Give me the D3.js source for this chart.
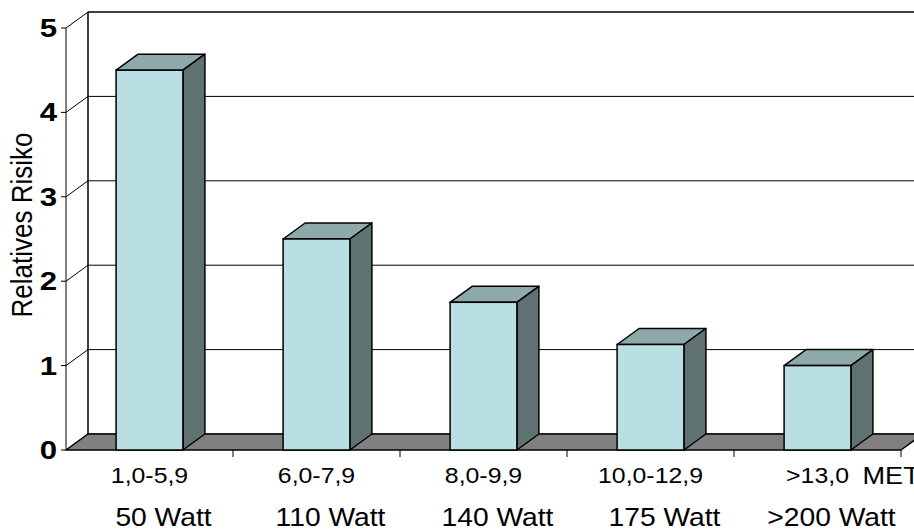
<!DOCTYPE html>
<html>
<head>
<meta charset="utf-8">
<script src="https://cdn.jsdelivr.net/npm/d3@7"></script>
<style>
  html, body { margin: 0; padding: 0; background: #fff; }
  svg { display: block; font-family: "Liberation Sans", Arial, sans-serif; }
</style>
</head>
<body>
<div id="chart"></div>
<script>
// Chart data
var categories = ['1,0-5,9', '6,0-7,9', '8,0-9,9', '10,0-12,9', '>13,0'];
var wattLabels = ['50 Watt', '110 Watt', '140 Watt', '175 Watt', '>200 Watt'];
var risks = [4.5, 2.5, 1.75, 1.25, 1.0];
var yTicks = [0, 1, 2, 3, 4, 5];

var width = 914;
var height = 532;
var depthX = 22;
var depthY = -16;
var stretch = 1.13;

var svg = d3.select('#chart')
  .append('svg')
  .attr('width', width)
  .attr('height', height);

var x = d3.scaleBand()
  .domain(categories)
  .range([66, 901])
  .paddingInner(0.6)
  .paddingOuter(0.3);

var y = d3.scaleLinear()
  .domain([0, 5])
  .range([450, 28]);

var x0 = x.range()[0];
var x1 = x.range()[1];

// Stretched text helper (the original picture is wider than tall)
function label(g, tx, ty, str, size, anchor, sx, weight) {
  return g.append('text')
    .attr('transform', 'translate(' + tx + ',' + ty + ') scale(' + sx + ',1)')
    .attr('text-anchor', anchor)
    .attr('font-size', size)
    .attr('font-weight', weight || 'normal')
    .attr('fill', '#000')
    .text(str);
}

// Back wall gridlines
var wall = svg.append('g');
wall.selectAll('.grid')
  .data(yTicks)
  .enter()
  .append('line')
  .attr('x1', x0 + depthX)
  .attr('x2', x1 + depthX)
  .attr('y1', function (d) { return y(d) + depthY; })
  .attr('y2', function (d) { return y(d) + depthY; })
  .attr('stroke', '#000')
  .attr('stroke-width', function (d) { return d === 5 ? 1.5 : 1; });

// Side wall diagonals
wall.selectAll('.side')
  .data(yTicks)
  .enter()
  .append('line')
  .attr('x1', x0)
  .attr('x2', x0 + depthX)
  .attr('y1', function (d) { return y(d); })
  .attr('y2', function (d) { return y(d) + depthY; })
  .attr('stroke', '#000')
  .attr('stroke-width', 1);

wall.append('line')
  .attr('x1', x0 + depthX).attr('x2', x0 + depthX)
  .attr('y1', y(0) + depthY).attr('y2', y(5) + depthY)
  .attr('stroke', '#000').attr('stroke-width', 1.5);

// Floor
var floorPts = [
  [x0, y(0)], [x0 + depthX, y(0) + depthY],
  [x1 + depthX, y(0) + depthY], [x1, y(0)]
];
svg.append('polygon')
  .attr('points', floorPts.join(' '))
  .attr('fill', '#808080')
  .attr('stroke', '#000')
  .attr('stroke-width', 1.5)
  .attr('stroke-linejoin', 'round');

// Front axis
svg.append('line')
  .attr('x1', x0).attr('x2', x0)
  .attr('y1', y(0)).attr('y2', y(5))
  .attr('stroke', '#000').attr('stroke-width', 1);

svg.selectAll('.ytick')
  .data(yTicks)
  .enter()
  .append('line')
  .attr('x1', x0 - 5).attr('x2', x0)
  .attr('y1', function (d) { return y(d); })
  .attr('y2', function (d) { return y(d); })
  .attr('stroke', '#000').attr('stroke-width', 1);

var boundaries = categories.map(function (d, i) { return x0 + x.step() * (i + 1); });
svg.selectAll('.xtick')
  .data(boundaries)
  .enter()
  .append('line')
  .attr('x1', function (d) { return d; })
  .attr('x2', function (d) { return d; })
  .attr('y1', y(0)).attr('y2', y(0) + 7)
  .attr('stroke', '#000').attr('stroke-width', 1);

// Bars
var bars = svg.selectAll('.bar')
  .data(risks)
  .enter()
  .append('g')
  .attr('class', 'bar');

bars.append('polygon')
  .attr('points', function (d, i) {
    var l = x(categories[i]);
    var r = l + x.bandwidth();
    var t = y(d);
    return [[l, t], [l + depthX, t + depthY], [r + depthX, t + depthY], [r, t]].join(' ');
  })
  .attr('fill', '#8da9aa')
  .attr('stroke', '#000')
  .attr('stroke-width', 1.5)
  .attr('stroke-linejoin', 'round');

bars.append('polygon')
  .attr('points', function (d, i) {
    var r = x(categories[i]) + x.bandwidth();
    var t = y(d);
    var b = y(0);
    return [[r, t], [r + depthX, t + depthY], [r + depthX, b + depthY], [r, b]].join(' ');
  })
  .attr('fill', '#5f7171')
  .attr('stroke', '#000')
  .attr('stroke-width', 1.5)
  .attr('stroke-linejoin', 'round');

bars.append('rect')
  .attr('x', function (d, i) { return x(categories[i]); })
  .attr('y', function (d) { return y(d); })
  .attr('width', x.bandwidth())
  .attr('height', function (d) { return y(0) - y(d); })
  .attr('fill', '#b9dfe2')
  .attr('stroke', '#000')
  .attr('stroke-width', 1.5);

// Labels
var texts = svg.append('g');
yTicks.forEach(function (d) {
  label(texts, 57, y(d) + 9, String(d), 26, 'end', 1.2, 'bold');
});

categories.forEach(function (d, i) {
  var cx = x(d) + x.bandwidth() / 2;
  label(texts, cx, 483, d, 22, 'middle', stretch);
  label(texts, cx + 14, 526, wattLabels[i], 25, 'middle', stretch);
});
label(texts, x(categories[4]) + x.bandwidth() / 2 + 45, 484, 'MET', 24, 'start', stretch);

texts.append('text')
  .attr('transform', 'translate(32,225) scale(' + stretch + ',1) rotate(-90)')
  .attr('text-anchor', 'middle')
  .attr('font-size', 26)
  .attr('fill', '#000')
  .text('Relatives Risiko');
</script>
</body>
</html>
